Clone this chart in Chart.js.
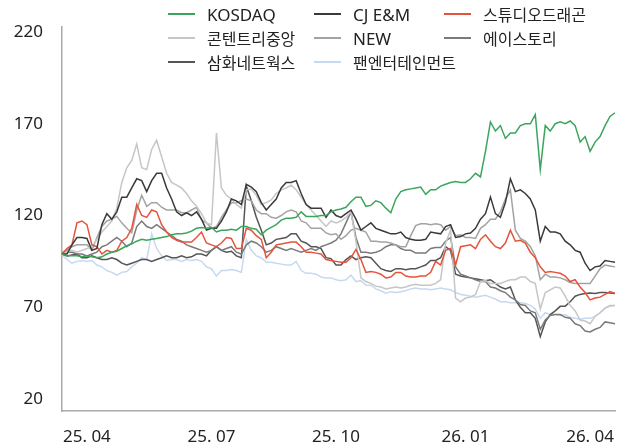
<!DOCTYPE html>
<html><head><meta charset="utf-8">
<script src="https://cdn.jsdelivr.net/npm/chart.js@4.4.1/dist/chart.umd.min.js"></script>
<style>
html,body{margin:0;padding:0;background:#fff;}
#wrap{position:relative;width:624px;height:446px;overflow:hidden;}
canvas{position:absolute;left:0;top:0;}
#legend{position:absolute;left:0;top:0;width:624px;height:80px;font-family:"Noto Sans","Noto Sans CJK KR",sans-serif;color:#222;}
.item{position:absolute;display:flex;align-items:center;height:24px;white-space:nowrap;}
.sw{width:27px;height:1.5px;margin-right:12px;flex:none;}
</style></head>
<body><div id="wrap"><canvas id="c" width="624" height="446"></canvas><div id="legend"></div></div>
<script>
const seriesNames = ["KOSDAQ","CJ E&M","스튜디오드래곤","콘텐트리중앙","NEW","에이스토리","삼화네트웍스","팬엔터테인먼트"];
const tickLabels = ["25. 04","25. 07","25. 10","26. 01","26. 04"];
const tickIdx = [5,30,55,81,106];
const yTicks = [20,70,120,170,220];

const kosdaq = [99,98,98,98,97.5,98,97.5,97,97.5,99,
100,100.5,102,103.5,104.5,106,107,106.5,107,107.5,
108,108.5,109.5,110,110,110.5,111.5,113,113.5,113,
113.5,111,112,112,112.5,112,114,114,113,112.5,
109.5,112,113.5,115,117.5,118.5,118.5,119,122,119.5,
119.5,119.5,120,120,122,123,123.5,124.5,127.5,130,
130,125,125.5,128,127,124,121.5,129,133,134,
134.5,135,135.5,131.5,134,134,136,137,138,138.5,
138,138,140,143,141,155,171,166,169,162,
165,165,169,170,170,175,145,169,166,170,
171,170,171.5,169,160,163,155,160,163,169,
174,176];

const cjenm = [99,99,104,108,108,107.5,101,102,115,121,
118,122,130,130,135,140,139,133,139,143,
143,135,129,122,120,121.5,120,122,118,112,
113,113,117,122,129,128,126,137,135.5,133,
127,123,126,129,135,138,138,139,132,126,
124,124,124,119,123,120,119,121,123,118,
112,114,116,113,112,111,110,110,111,108,
107,106.5,106.5,107,111,110.5,110,114,115,108,
108.5,110,110.5,113,118,121,130,121,119,127,
140,133,134,132,129,123,106,114,111,111,
110,106,104,101,100,94,90,92,92.5,95.5,
95,94.5];

const studio = [99,102,104,116,117,115,104,103,99,101,
100,101,106,108,113,126,120,119,123,122,
115,111,108,106.5,105.5,105.5,105.5,108,111,105,
104,103,105,108,107.5,102,102,113,112,109,
107,97,100,104,104.5,105,105.5,105.5,103,100,
100,99.5,99,96,95.5,95,94.5,94.5,97,101.5,
96,89,89.5,89,88,86,86.5,89,89,87,
86.5,86.5,87,87,89,95,93,101,102,93,
103,103.5,104,102,107,109.5,106,103,102,105,
112,106,106.5,105,100,97,92,89,89.5,89,
88.5,87,84,85,81,78,74,75,75.5,77,
78.5,77.5];

const contentree = [99,100,101,100,101,102,103,107,111,114,
117,124,138,146,150,159,146,145,156,161,
152,143,138,136.5,135,132,128,125,121,116,
115,165,135,131,129,126,124,134,134.5,131,
126,127,128.5,132,134,135,136.5,134,130,126,
123,120,117,114,117,116,117,119,122,106,
86,84,83,81.5,81,80,80.5,81,80.5,81,
82,82.5,82,82,82,83,85,105,112,75,
73,75,75.5,77,84,84.5,83,83,83,84,
85,85,86.5,86.5,84,83,69,78,79.5,81,
80.5,76,71,68,63,62.5,61,65,67,69.5,
71,71];

const newco = [100,101,103,104,104,104,101,108,114,117,
118,119.5,116,113,110.5,123,131,125,127,127,
124.5,123,123,123,121.5,121.5,123,124.5,117.5,116,
113,114,119,123,127,127,128,129,128,123,
121,121,119,118.5,120,122,123,122,117,116,
113,113,113,110.5,109.5,110,107,109,112,113,
112,111,106,106,105.5,105.5,105,104,103,103,
109,114.5,115.5,115.5,115,115.5,115,112,114,109,
109.5,108,108,107.5,113,115,118,118,122,129,
134,112,107.5,106,103,98,85,88,86.5,86.5,
86,85,83.5,83,83,83,83,87,91,93,
92.5,92];

const acestory = [99,100,100,99,99,98,99,100,103,104,
106,108,106,103,105,114,117,114,113,115,
113,111,109,107,106,104,103,102,101,100,
101,103,101,102,103,100,99,104,106,105,
103,100,101,103,102,101,102,101,100,101,
102,101,103,104,105,106.5,110,116,122,108,
100,100,99.5,100,101,103,104,104,102,101,
101,99.5,99.5,99.5,102,102.5,102.5,106,108,92,
88,87,86,85,84,84,81,80.5,79,78,
75.5,74,71.5,71,68,67,58,63,65.5,66,
66,64.5,64,61,60,57,56.5,58,59,62,
61.5,61];

const samhwa = [99,98,98.5,99,97,97,98,97,96,96,
97,96,94,93,94,95,96,96,95,96,
97,98,97,97,98,97,97.5,99,99,98,
101,103,101,100,100.5,98,97,136,128,119,
112,104,105,107,107.5,108,110,110,106,105,
103,103,102,97,96.5,93,93,96,98,96,
97,97.5,97,94,91,90,89.5,91,91,90.5,
91,91,92,93,95.5,95.5,97,103,101,88,
87,86.5,86,85.5,85,84.5,85,83,81,80,
81,74,70,67,67,64,54,62,66,68,
70.5,70.6,73,76,77,77.5,77.7,77.5,78,78,
77.7,77.5];

const panent = [98.5,96,94,95,95.5,95,95.5,93,92,90,
89,87.5,89,89.5,92,94,97,96,110,102,
98,95.5,96,96,95,96,95.5,96,95,92,
91,87,90,90,90.5,90,89,107,101,98,
97,94.5,94.5,94,93.5,93,93,95,90,88.5,
88.5,88,86.5,86,86,85,84.5,85,87.5,84,
84.5,82,82,80,79,77.7,78.5,78,78.5,79,
80,80.5,80,80,79.5,80,80.5,80,79.5,78,
77,76.5,76,75.5,76,76.5,75.5,74.5,73,73,
72.5,72.5,72.5,72,71,69,64,67,66,66,
65.5,66,64.5,64,63.5,64,64,65,67,69.5,
70.5,71];

const seriesData = [kosdaq,cjenm,studio,contentree,newco,acestory,samhwa,panent];
const colors = ["#3aa65c","#3a3a3a","#e5533a","#c6c6c6","#a3a3a3","#7a7a7a","#555555","#c6d9f1"];
const categories = kosdaq.map((_, i) => i);

// legend (HTML)
const legendCols = [168, 314, 444];
const legendRows = [14, 38, 62];
const lg = document.getElementById('legend');
seriesNames.forEach((n, i) => {
  const d = document.createElement('div');
  d.className = 'item';
  d.style.left = legendCols[i % 3] + 'px';
  d.style.top = (legendRows[Math.floor(i / 3)] - 12) + 'px';
  d.style.fontSize = /[가-힣]/.test(n) ? '16px' : '17px';
  const s = document.createElement('span');
  s.className = 'sw';
  s.style.background = colors[i];
  const t = document.createElement('span');
  t.textContent = n;
  d.appendChild(s); d.appendChild(t);
  lg.appendChild(d);
});

new Chart(document.getElementById('c'), {
  type: 'line',
  data: {
    labels: categories,
    datasets: seriesNames.map((n, i) => ({
      label: n, data: seriesData[i], borderColor: colors[i], backgroundColor: colors[i],
      borderWidth: 1.5, pointRadius: 0, tension: 0, fill: false
    }))
  },
  options: {
    responsive: false, animation: false, devicePixelRatio: 1,
    layout: {padding: {top: 27, right: 9, left: 0, bottom: 0}},
    plugins: {legend: {display: false}, tooltip: {enabled: false}},
    scales: {
      x: {
        type: 'category', offset: false,
        grid: {display: false, drawTicks: false},
        border: {display: true, color: '#aaaaaa', width: 1.5},
        ticks: {autoSkip: false, maxRotation: 0, padding: 16, color: '#222',
          font: {family: '"Noto Sans"', size: 17},
          callback: (v) => { const k = tickIdx.indexOf(v); return k < 0 ? '' : tickLabels[k]; }},
        afterBuildTicks: (s) => { s.ticks = tickIdx.map(v => ({value: v})); },
        afterFit: (s) => { s.height = 35; s.paddingLeft = 0; s.paddingRight = 0; }
      },
      y: {
        min: 13.46, max: 222.72,
        grid: {display: false, drawTicks: false},
        border: {display: true, color: '#aaaaaa', width: 1.5},
        ticks: {padding: 19, color: '#222', font: {family: '"Noto Sans"', size: 17}},
        afterBuildTicks: (s) => { s.ticks = yTicks.map(v => ({value: v})); },
        afterFit: (s) => { s.width = 62; s.paddingTop = 0; s.paddingBottom = 0; }
      }
    }
  }
});
</script>
</body></html>
